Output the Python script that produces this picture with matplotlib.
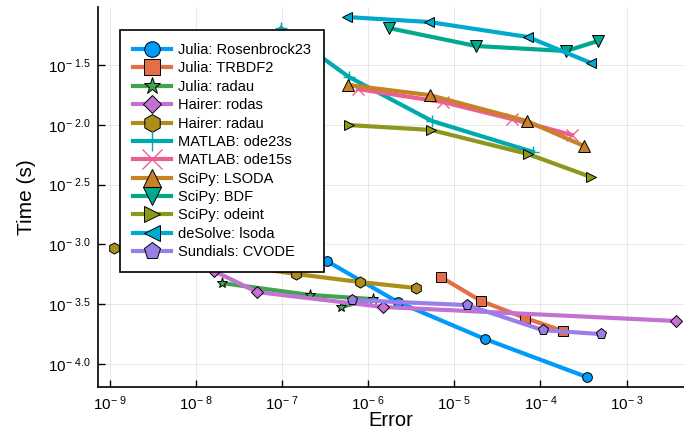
import matplotlib
matplotlib.use('Agg')
import matplotlib.pyplot as plt
import numpy as np
from matplotlib.ticker import FixedLocator, FixedFormatter, NullLocator

plt.rcParams['font.family'] = ['Liberation Sans', 'DejaVu Sans']
plt.rcParams['mathtext.fontset'] = 'custom'
plt.rcParams['mathtext.rm'] = 'Liberation Sans'
plt.rcParams['mathtext.it'] = 'Liberation Sans'

# work-precision data: error vs time (s)
names = ['Julia: Rosenbrock23', 'Julia: TRBDF2', 'Julia: radau', 'Hairer: rodas',
         'Hairer: radau', 'MATLAB: ode23s', 'MATLAB: ode15s', 'SciPy: LSODA',
         'SciPy: BDF', 'SciPy: odeint', 'deSolve: lsoda', 'Sundials: CVODE']

err_ros23 = [3.3e-7, 2.2e-6, 2.26e-5, 3.47e-4]
time_ros23 = [7.26e-4, 3.30e-4, 1.62e-4, 7.78e-5]
err_trbdf2 = [6.98e-6, 2.04e-5, 6.61e-5, 1.82e-4]
time_trbdf2 = [5.33e-4, 3.37e-4, 2.43e-4, 1.89e-4]
err_jradau = [2.0e-8, 2.10e-7, 1.135e-6, 4.82e-7]
time_jradau = [4.75e-4, 3.78e-4, 3.49e-4, 3.0e-4]
err_rodas = [1.61e-8, 5.09e-8, 1.48e-6, 3.75e-3]
time_rodas = [6.0e-4, 4.0e-4, 3.0e-4, 2.29e-4]
err_hradau = [1.11e-9, 1.45e-7, 8.0e-7, 3.58e-6]
time_hradau = [9.33e-4, 5.66e-4, 4.85e-4, 4.32e-4]
err_ode23s = [9.7e-8, 5.97e-7, 5.5e-6, 8.18e-5]
time_ode23s = [6.44e-2, 2.51e-2, 1.076e-2, 5.93e-3]
err_ode15s = [7.59e-7, 7.38e-6, 4.67e-5, 2.32e-4]
time_ode15s = [1.99e-2, 1.55e-2, 1.117e-2, 8.22e-3]
err_lsoda = [5.81e-7, 5.21e-6, 6.97e-5, 3.2e-4]
time_lsoda = [2.15e-2, 1.77e-2, 1.076e-2, 6.65e-3]
err_bdf = [1.74e-6, 1.78e-5, 1.98e-4, 4.66e-4]
time_bdf = [6.44e-2, 4.56e-2, 4.14e-2, 5.02e-2]
err_odeint = [5.97e-7, 5.35e-6, 7.16e-5, 3.86e-4]
time_odeint = [9.95e-3, 9.06e-3, 5.70e-3, 3.66e-3]
err_desolve = [5.66e-7, 5.07e-6, 7.16e-5, 3.86e-4]
time_desolve = [7.96e-2, 7.24e-2, 5.42e-2, 3.29e-2]
err_cvode = [6.47e-7, 1.40e-5, 1.07e-4, 5.05e-4]
time_cvode = [3.43e-4, 3.11e-4, 1.92e-4, 1.78e-4]

errs = [err_ros23, err_trbdf2, err_jradau, err_rodas, err_hradau, err_ode23s,
        err_ode15s, err_lsoda, err_bdf, err_odeint, err_desolve, err_cvode]
times = [time_ros23, time_trbdf2, time_jradau, time_rodas, time_hradau, time_ode23s,
         time_ode15s, time_lsoda, time_bdf, time_odeint, time_desolve, time_cvode]

xtick_exp = [-9, -8, -7, -6, -5, -4, -3]
ytick_exp = [-4.0, -3.5, -3.0, -2.5, -2.0, -1.5]

colors = ['#009AFA', '#E36F47', '#3EA44E', '#C371D2', '#AC8E18', '#00A9AD',
          '#ED5E93', '#C68225', '#00A98D', '#8E971D', '#00A9CD', '#9B7FE9']
markers = ['o', 's', '*', 'D', 'h', '+', 'x', '^', 'v', '>', '<', 'p']
msizes = [7, 7.5, 8, 6, 8, 9, 9, 8, 8, 7, 7, 8]

fig = plt.figure(figsize=(6.84, 4.30), dpi=100)
ax = fig.add_axes([98 / 684, 1 - 387 / 430, 1 - 98 / 684, 380 / 430])

for i in range(len(names)):
    thin = markers[i] in ('+', 'x')
    ax.plot(errs[i], times[i], color=colors[i], lw=3, marker=markers[i],
            ms=msizes[i], mfc=colors[i],
            mec=colors[i] if thin else 'black',
            mew=1.0 if thin else 0.7, label=names[i])

ax.set_xscale('log')
ax.set_yscale('log')
ax.set_xlim(10 ** -9.139, 10 ** -2.333)
ax.set_ylim(10 ** -4.192, 10 ** -1.015)

ax.xaxis.set_major_locator(FixedLocator([10.0 ** e for e in xtick_exp]))
ax.xaxis.set_major_formatter(FixedFormatter([r'$10^{-\ %d}$' % -e for e in xtick_exp]))
ax.yaxis.set_major_locator(FixedLocator([10.0 ** e for e in ytick_exp]))
ax.yaxis.set_major_formatter(FixedFormatter([r'$10^{-\ %.1f}$' % -e for e in ytick_exp]))
ax.xaxis.set_minor_locator(NullLocator())
ax.yaxis.set_minor_locator(NullLocator())

ax.tick_params(direction='in', length=5, width=1, labelsize=11, pad=5)
ax.grid(True, color='black', alpha=0.1, lw=0.6)
for s in ['top', 'right']:
    ax.spines[s].set_visible(False)
for s in ['left', 'bottom']:
    ax.spines[s].set_linewidth(1.2)

ax.set_xlabel('Error', fontsize=14.5, labelpad=-1)
ax.set_ylabel('Time (s)', fontsize=15, labelpad=9)

leg = ax.legend(loc='upper left', bbox_to_anchor=(22 / 586, 1 - 23 / 380),
                borderaxespad=0, fontsize=10.5, fancybox=False, framealpha=1,
                edgecolor='black', handlelength=2.6, labelspacing=0.3,
                markerscale=1.6, borderpad=0.9, handletextpad=0.5)
leg.get_frame().set_linewidth(1.2)

fig.savefig('out.png', dpi=100)
